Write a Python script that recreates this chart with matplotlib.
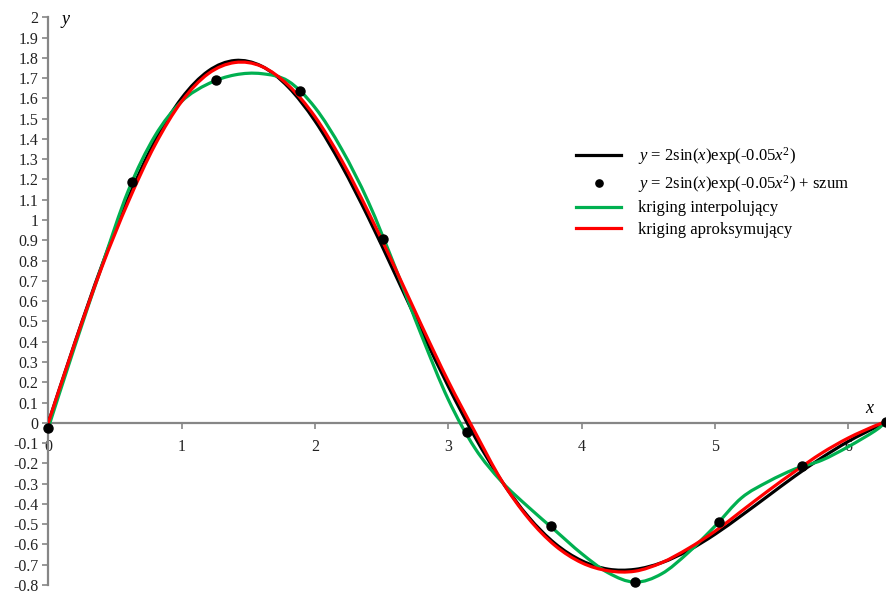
import numpy as np
import matplotlib
matplotlib.use("Agg")
import matplotlib.pyplot as plt
from matplotlib.path import Path
from matplotlib.patches import PathPatch
from matplotlib.lines import Line2D

plt.rcParams['font.family'] = ['Liberation Serif', 'DejaVu Serif']
plt.rcParams['mathtext.fontset'] = 'custom'
plt.rcParams['mathtext.rm'] = 'Liberation Serif'
plt.rcParams['mathtext.it'] = 'Liberation Serif:italic'

# --- dane ---
x_siatka = [0.0, 0.2, 0.4, 0.6, 0.8, 1.0, 1.2, 1.4, 1.6, 1.8, 2.0, 2.2, 2.4, 2.6,
            2.8, 3.0, 3.2, 3.4, 3.6, 3.8, 4.0, 4.2, 4.4, 4.6, 4.8, 5.0, 5.2, 5.4,
            5.6, 5.8, 6.0, 6.2, 6.283]

y_funkcja = [0.0, 0.397, 0.773, 1.109, 1.390, 1.601, 1.735, 1.787, 1.759, 1.656,
             1.489, 1.269, 1.013, 0.735, 0.453, 0.180, -0.070, -0.287, -0.463,
             -0.595, -0.680, -0.722, -0.723, -0.690, -0.630, -0.550, -0.457,
             -0.360, -0.263, -0.173, -0.092, -0.024, 0.0]

y_interp = [-0.025, 0.38, 0.77, 1.145, 1.415, 1.585, 1.672, 1.716, 1.722, 1.685,
            1.555, 1.35, 1.09, 0.77, 0.43, 0.115, -0.125, -0.29, -0.415, -0.53,
            -0.645, -0.74, -0.786, -0.745, -0.64, -0.51, -0.37, -0.29, -0.228,
            -0.185, -0.118, -0.04, 0.005]

y_aproks = [0.0, 0.395, 0.765, 1.09, 1.37, 1.585, 1.722, 1.777, 1.758, 1.665,
            1.51, 1.295, 1.04, 0.765, 0.48, 0.205, -0.045, -0.285, -0.47, -0.605,
            -0.69, -0.73, -0.732, -0.69, -0.62, -0.535, -0.435, -0.335, -0.24,
            -0.15, -0.075, -0.015, 0.005]

x_pkt = [0.0, 0.628, 1.257, 1.885, 2.513, 3.142, 3.770, 4.398, 5.027, 5.655, 6.283]
y_pkt = [-0.025, 1.187, 1.692, 1.638, 0.909, -0.046, -0.508, -0.786, -0.490, -0.212, 0.005]

y_ticki = [-0.8, -0.7, -0.6, -0.5, -0.4, -0.3, -0.2, -0.1, 0, 0.1, 0.2, 0.3, 0.4, 0.5,
           0.6, 0.7, 0.8, 0.9, 1, 1.1, 1.2, 1.3, 1.4, 1.5, 1.6, 1.7, 1.8, 1.9, 2]
x_ticki = [0, 1, 2, 3, 4, 5, 6]

etykiety = [r'$y$ = 2sin($x$)exp(-0.05$x^2$)',
            r'$y$ = 2sin($x$)exp(-0.05$x^2$) + szum',
            'kriging interpolujący',
            'kriging aproksymujący']

szary = '#868686'
kolory = ['black', '#00B050', '#FF0000']


# linia wygładzona jak w Excelu (krzywe Beziera przez punkty)
def gladka_linia(ax, xs, ys, kolor, lw, z):
    p = np.column_stack([xs, ys])
    n = len(p)
    verts = [p[0]]
    codes = [Path.MOVETO]
    for i in range(n - 1):
        p0 = p[i - 1] if i > 0 else p[i]
        p3 = p[i + 2] if i + 2 < n else p[i + 1]
        c1 = p[i] + (p[i + 1] - p0) / 6
        c2 = p[i + 1] - (p3 - p[i]) / 6
        verts += [c1, c2, p[i + 1]]
        codes += [Path.CURVE4] * 3
    ax.add_patch(PathPatch(Path(verts, codes), fill=False, edgecolor=kolor,
                           lw=lw, zorder=z, capstyle='round', joinstyle='round'))


fig = plt.figure(figsize=(8.86, 5.91), dpi=100)
ax = fig.add_axes([48.3 / 886, 6 / 591, 1 - 48.3 / 886, (585 - 17.3) / 591])

gladka_linia(ax, x_siatka, y_funkcja, kolory[0], 2.3, 3)
gladka_linia(ax, x_siatka, y_interp, kolory[1], 2.3, 4)
gladka_linia(ax, x_siatka, y_aproks, kolory[2], 2.3, 5)
p1, = ax.plot(x_pkt, y_pkt, 'o', color='black', ms=6.5, zorder=6, clip_on=False)

ax.set_xlim(0, 6.2832)
ax.set_ylim(-0.8, 2.0)
ax.set_axisbelow(True)

for s in ['top', 'right']:
    ax.spines[s].set_visible(False)
ax.spines['bottom'].set_position(('data', 0))
for s in ['left', 'bottom']:
    ax.spines[s].set_color(szary)
    ax.spines[s].set_linewidth(1.6)

ax.set_yticks(y_ticki)
ax.set_yticklabels([f'{v:g}' for v in y_ticki])
ax.set_xticks(x_ticki)
ax.set_xticklabels([str(v) for v in x_ticki])
ax.tick_params(axis='both', colors=szary, labelcolor='#222222', labelsize=11.5,
               length=4, width=1.2, direction='out')
ax.tick_params(axis='x', pad=8)
ax.tick_params(axis='y', pad=3)

ax.text(0.1, 1.99, 'y', fontsize=13, style='italic', va='center', ha='left')
ax.text(6.19, 0.07, 'x', fontsize=13, style='italic', va='center', ha='right')

uchwyty = [Line2D([], [], color=kolory[0], lw=2.3), p1,
           Line2D([], [], color=kolory[1], lw=2.3),
           Line2D([], [], color=kolory[2], lw=2.3)]
fig.legend(uchwyty, etykiety, loc='upper left',
           bbox_to_anchor=(576 / 886, 1 - 145 / 591), frameon=False,
           fontsize=12, handlelength=2.7, handletextpad=1.0, labelspacing=0.35,
           borderpad=0, borderaxespad=0, markerscale=0.8)

fig.savefig('out.png', dpi=100)
